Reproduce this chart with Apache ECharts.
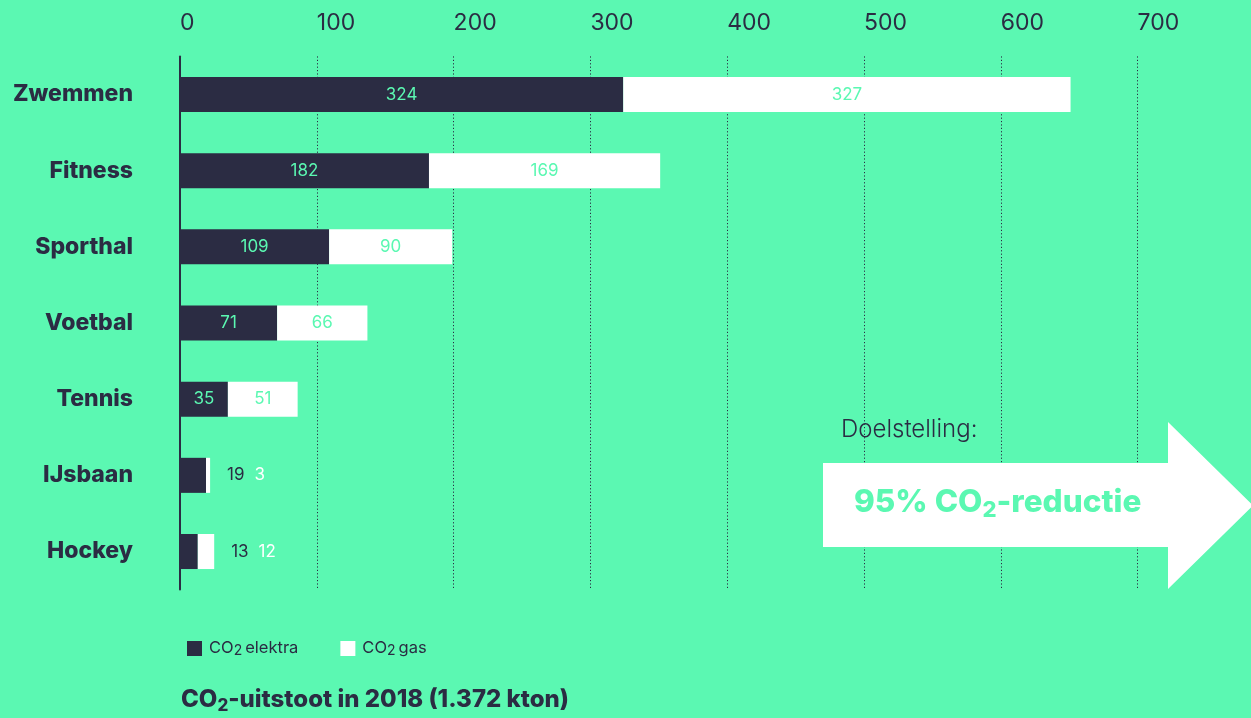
<!DOCTYPE html>
<html>
<head>
<meta charset="utf-8">
<script src="https://cdn.jsdelivr.net/npm/echarts@6/dist/echarts.min.js"></script>
<style>
html,body{margin:0;padding:0;background:#5bf8b2;}
#c{width:1251px;height:718px;}
</style>
</head>
<body>
<div id="c"></div>
<script>
const categories = ['Zwemmen', 'Fitness', 'Sporthal', 'Voetbal', 'Tennis', 'IJsbaan', 'Hockey'];
const elektra = [324, 182, 109, 71, 35, 19, 13];
const gas = [327, 169, 90, 66, 51, 3, 12];
const xTicks = [0, 100, 200, 300, 400, 500, 600, 700];

const BG = '#5bf8b2';
const DARK = '#2b2c43';
const FONT = 'Inter, "Noto Sans", sans-serif';

const isSmall = categories.map((c, i) => elektra[i] + gas[i] < 40);

const elektraData = elektra.map((v, i) => ({
  value: v,
  label: { show: !isSmall[i] }
}));
const gasData = gas.map((v, i) => isSmall[i] ? ({
  value: v,
  label: {
    show: true,
    position: 'right',
    distance: 17,
    formatter: '{a|' + elektra[i] + '}{b|' + v + '}',
    rich: {
      a: { color: DARK, fontSize: 17, fontFamily: FONT, padding: [0, 10, 0, 0] },
      b: { color: '#ffffff', fontSize: 17, fontFamily: FONT }
    }
  }
}) : ({ value: v }));

const chart = echarts.init(document.getElementById('c'));
chart.setOption({
  backgroundColor: BG,
  animation: false,
  grid: { left: 180, right: 113.4, top: 56.4, bottom: 128.4, containLabel: false },
  xAxis: {
    type: 'value',
    position: 'top',
    min: 0, max: 700, interval: 100,
    axisLine: { show: false },
    axisTick: { show: false },
    axisLabel: {
      align: 'left',
      margin: 22,
      color: DARK,
      fontSize: 23,
      fontFamily: FONT,
      formatter: v => xTicks.includes(v) ? String(v) : ''
    },
    splitLine: { show: true, lineStyle: { color: DARK, type: [1.2, 2.2], width: 1 } }
  },
  yAxis: {
    type: 'category',
    data: categories,
    inverse: true,
    axisLine: { show: true, lineStyle: { color: DARK, width: 2 } },
    axisTick: { show: false },
    axisLabel: {
      margin: 47,
      color: DARK,
      fontSize: 23,
      fontWeight: 800,
      fontFamily: FONT,
      padding: [3, 0, 0, 0]
    },
    z: 10
  },
  legend: {
    left: 182, top: 635,
    itemWidth: 15, itemHeight: 15,
    itemGap: 42,
    icon: 'rect',
    textStyle: {
      color: DARK, fontSize: 16.5, fontFamily: FONT, padding: [0, 0, 0, 2],
      rich: { s: { fontSize: 14, color: DARK, fontFamily: FONT, padding: [4, 3, 0, 0] } }
    },
    formatter: name => name === 'CO2 elektra' ? 'CO{s|2}elektra' : 'CO{s|2}gas',
    data: ['CO2 elektra', 'CO2 gas']
  },
  series: [
    {
      name: 'CO2 elektra', type: 'bar', stack: 'co2',
      data: elektraData,
      barWidth: '46%',
      itemStyle: { color: DARK },
      label: { show: true, position: 'inside', color: BG, fontSize: 17, fontFamily: FONT }
    },
    {
      name: 'CO2 gas', type: 'bar', stack: 'co2',
      data: gasData,
      barWidth: '46%',
      itemStyle: { color: '#ffffff' },
      label: { show: true, position: 'inside', color: BG, fontSize: 17, fontFamily: FONT }
    }
  ],
  graphic: [
    {
      type: 'polygon', z: 100,
      shape: { points: [[823, 463], [1168, 463], [1168, 422], [1253, 505.5], [1168, 589], [1168, 547], [823, 547]] },
      style: { fill: '#ffffff' }
    },
    {
      type: 'text', z: 101, left: 841, top: 418,
      style: { text: 'Doelstelling:', fill: DARK, fontSize: 24, fontWeight: 300, fontFamily: FONT }
    },
    {
      type: 'text', z: 101, left: 854, top: 487,
      style: {
        text: '95% CO{s|2}-reductie', fill: BG, fontSize: 31.5, fontWeight: 800, fontFamily: FONT,
        rich: { s: { fontSize: 22, fontWeight: 800, fill: BG, fontFamily: FONT, padding: [15, 0, 0, 0] } }
      }
    },
    {
      type: 'text', z: 101, left: 181, top: 688,
      style: {
        text: 'CO{s|2}-uitstoot in 2018 (1.372 kton)', fill: DARK, fontSize: 24, fontWeight: 800, fontFamily: FONT,
        rich: { s: { fontSize: 17, fontWeight: 800, fill: DARK, fontFamily: FONT, padding: [11, 0, 0, 0] } }
      }
    }
  ]
});
</script>
</body>
</html>
